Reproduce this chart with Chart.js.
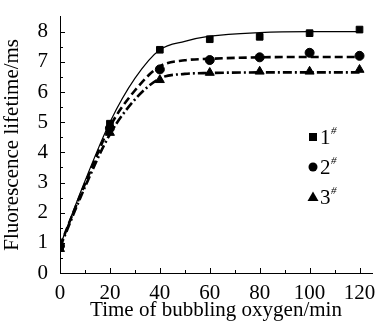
<!DOCTYPE html>
<html><head><meta charset="utf-8">
<script src="https://cdn.jsdelivr.net/npm/chart.js@4.4.1/dist/chart.umd.min.js"></script>
<style>html,body{margin:0;padding:0;background:#fff;}#wrap{width:383px;height:323px;}</style>
</head><body><div id="wrap"><canvas id="c" width="383" height="323"></canvas></div>
<script>
// measured points
const times = [0, 20, 40, 60, 80, 100, 120];
const s1 = [0.85, 4.95, 7.4, 7.75, 7.83, 7.95, 8.07];
const s2 = [0.9, 4.8, 6.75, 7.06, 7.15, 7.3, 7.2];
const s3 = [0.8, 4.65, 6.4, 6.64, 6.68, 6.68, 6.74];
// fitted curves
const fitTimes = [0, 10, 20, 30, 40, 50, 60, 80, 100, 120];
const fit1 = [0.9, 3.05, 5.0, 6.45, 7.4, 7.68, 7.85, 7.97, 8.0, 8.0];
const fit2 = [0.9, 2.95, 4.85, 6.05, 6.85, 7.05, 7.1, 7.15, 7.16, 7.16];
const fit3 = [0.85, 2.85, 4.6, 5.75, 6.45, 6.6, 6.63, 6.65, 6.65, 6.65];
const legendLabels = ['1', '2', '3'];
const xTicks = [0, 20, 40, 60, 80, 100, 120];
const yTicks = [0, 1, 2, 3, 4, 5, 6, 7, 8];

const FONT = "'Liberation Serif', 'Times New Roman', serif";
const pts = (xs, ys) => xs.map((x, i) => ({x: x, y: ys[i]}));

const inwardTicks = {
  id: 'inwardTicks',
  afterDraw(chart) {
    const ctx = chart.ctx, xs = chart.scales.x, ys = chart.scales.y;
    ctx.save();
    ctx.strokeStyle = '#000'; ctx.lineWidth = 1;
    for (let v = 0; v <= 120; v += 10) {
      const px = Math.round(xs.getPixelForValue(v)) + 0.5;
      const len = (v % 20 === 0) ? 5 : 3;
      ctx.beginPath(); ctx.moveTo(px, xs.top); ctx.lineTo(px, xs.top - len); ctx.stroke();
    }
    for (let v = 0; v <= 8; v += 0.5) {
      const py = Math.round(ys.getPixelForValue(v)) + 0.5;
      const len = (v % 1 === 0) ? 5 : 3;
      ctx.beginPath(); ctx.moveTo(ys.right, py); ctx.lineTo(ys.right + len, py); ctx.stroke();
    }
    // legend
    const lx = 313, ly = [137, 167, 197];
    const styles = ['rect', 'circle', 'triangle'];
    ctx.fillStyle = '#000';
    for (let i = 0; i < 3; i++) {
      const y = ly[i];
      ctx.beginPath();
      if (styles[i] === 'rect') ctx.rect(lx - 4, y - 4, 8, 8);
      else if (styles[i] === 'circle') ctx.arc(lx, y, 4.5, 0, Math.PI * 2);
      else { ctx.moveTo(lx, y - 5.5); ctx.lineTo(lx + 5.5, y + 4); ctx.lineTo(lx - 5.5, y + 4); ctx.closePath(); }
      ctx.fill();
      ctx.font = '21px ' + FONT;
      ctx.textBaseline = 'middle'; ctx.textAlign = 'left';
      ctx.fillText(legendLabels[i], lx + 7, y + 1);
      ctx.font = 'italic 11px ' + FONT;
      ctx.fillText('#', lx + 18, y - 6);
    }
    ctx.restore();
  }
};

new Chart(document.getElementById('c'), {
  type: 'scatter',
  data: {
    datasets: [
      {data: pts(fitTimes, fit1), showLine: true, borderColor: '#000', borderWidth: 1.2, pointRadius: 0, cubicInterpolationMode: 'monotone', fill: false},
      {data: pts(fitTimes, fit2), showLine: true, borderColor: '#000', borderWidth: 2.6, borderDash: [8, 4], pointRadius: 0, cubicInterpolationMode: 'monotone', fill: false},
      {data: pts(fitTimes, fit3), showLine: true, borderColor: '#000', borderWidth: 2.6, borderDash: [9, 3, 2, 3], pointRadius: 0, cubicInterpolationMode: 'monotone', fill: false},
      {data: pts(times, s1), showLine: false, pointStyle: 'rect', pointRadius: 4.7, backgroundColor: '#000', borderColor: '#000'},
      {data: pts(times, s2), showLine: false, pointStyle: 'circle', pointRadius: 4.5, backgroundColor: '#000', borderColor: '#000'},
      {data: pts(times, s3), showLine: false, pointStyle: 'triangle', pointRadius: 5.2, backgroundColor: '#000', borderColor: '#000'}
    ]
  },
  options: {
    responsive: false, animation: false, devicePixelRatio: 1,
    layout: {padding: {top: 5, right: 11, left: 0, bottom: 0}},
    plugins: {legend: {display: false}, tooltip: {enabled: false}},
    scales: {
      x: {
        type: 'linear', min: 0, max: 125,
        afterBuildTicks: s => { s.ticks = xTicks.map(v => ({value: v})); },
        afterFit: s => { s.height = 50; },
        grid: {display: false},
        border: {display: true, color: '#000', width: 1},
        ticks: {color: '#000', font: {family: FONT, size: 21}, padding: 0, maxRotation: 0},
        title: {display: true, text: 'Time of bubbling oxygen/min', color: '#000', font: {family: FONT, size: 21}, padding: {top: -4, bottom: 0}}
      },
      y: {
        min: 0, max: 8.5,
        afterBuildTicks: s => { s.ticks = yTicks.map(v => ({value: v})); },
        afterFit: s => { s.width = 60; },
        grid: {display: false},
        border: {display: true, color: '#000', width: 1},
        ticks: {color: '#000', font: {family: FONT, size: 21}, padding: 4},
        title: {display: true, text: 'Fluorescence lifetime/ms', color: '#000', font: {family: FONT, size: 21}, padding: {top: 0, bottom: 0}}
      }
    }
  },
  plugins: [inwardTicks]
});
</script></body></html>
